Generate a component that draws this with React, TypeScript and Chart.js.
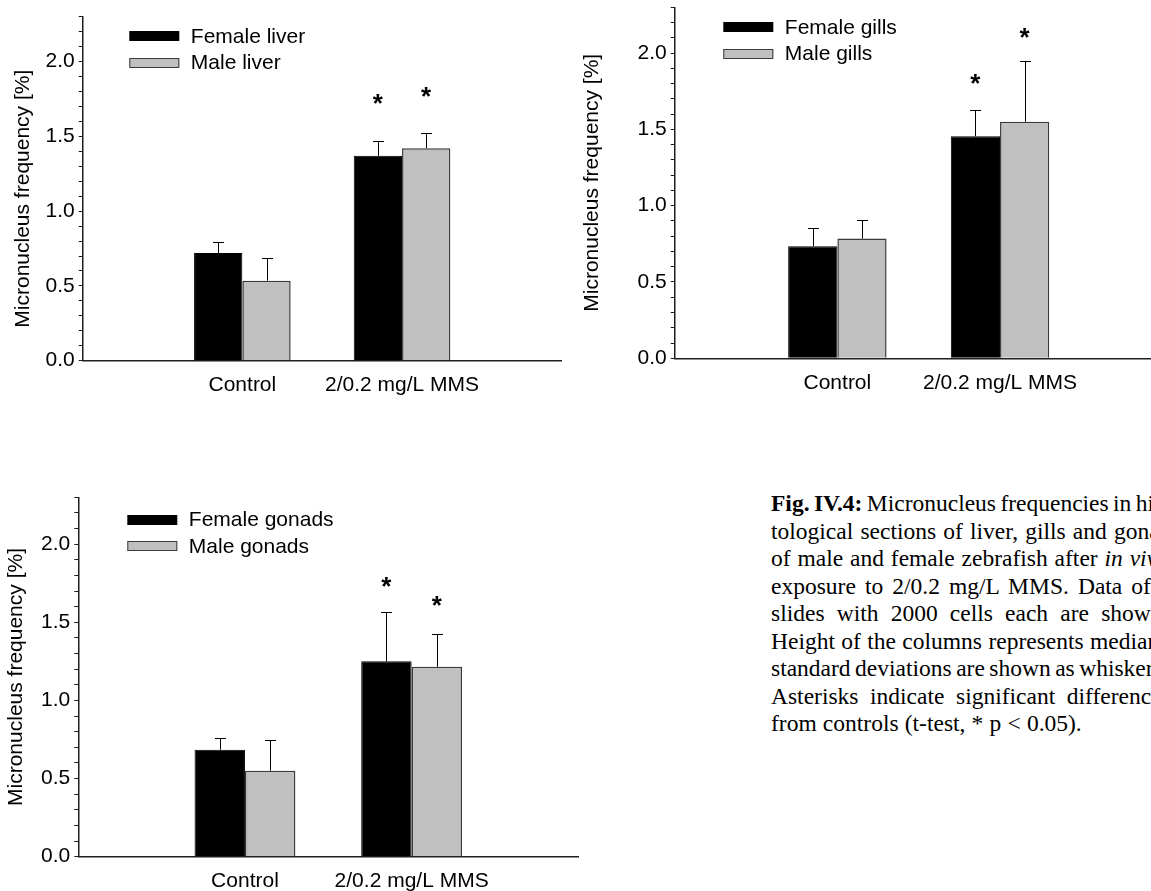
import React, { useEffect, useRef } from 'react';
import { Chart, registerables } from 'chart.js';

Chart.register(...registerables);

// ---- data ----
const categories = ['Control', '2/0.2 mg/L MMS'];
const yMax = 2.3;
const yStep = 0.1;
const yLabelStep = 0.5;
const yTitle = 'Micronucleus frequency [%]';

const liverFemale = [0.72, 1.37];
const liverFemaleSD = [0.074, 0.1];
const liverFemaleStar = [null, 1.752];
const liverMale = [0.535, 1.42];
const liverMaleSD = [0.152, 0.105];
const liverMaleStar = [null, 1.803];

const gillsFemale = [0.735, 1.455];
const gillsFemaleSD = [0.122, 0.172];
const gillsFemaleStar = [null, 1.836];
const gillsMale = [0.785, 1.55];
const gillsMaleSD = [0.124, 0.398];
const gillsMaleStar = [null, 2.138];

const gonadsFemale = [0.685, 1.25];
const gonadsFemaleSD = [0.077, 0.313];
const gonadsFemaleStar = [null, 1.761];
const gonadsMale = [0.55, 1.215];
const gonadsMaleSD = [0.2, 0.207];
const gonadsMaleStar = [null, 1.643];

// ---- styles ----
const FONT = 'Liberation Sans, Arial, sans-serif';
const FS = 21;
const BLACK = '#000000';
const GREY = '#c0c0c0';
const GREY_EDGE = '#3a3a3a';
const AXIS = '#1e1e1e';

type Area = { left: number; right: number; top: number; bottom: number };
type PanelProps = {
  left: number;
  top: number;
  width: number;
  height: number;
  area: Area; // plot area in page coordinates
  legendX: number; // swatch left, page coordinates
  legendY: number; // first row centre, page coordinates
  titleX: number; // y title centre, page coordinates
  titleDy: number;
  names: [string, string];
  female: number[];
  femaleSD: number[];
  femaleStar: (number | null)[];
  male: number[];
  maleSD: number[];
  maleStar: (number | null)[];
};

// whiskers (upper SD) and significance asterisks
const whiskerPlugin = {
  id: 'whiskers',
  afterDatasetsDraw(chart: any) {
    const ctx = chart.ctx;
    const ys = chart.scales.y;
    chart.data.datasets.forEach((ds: any, i: number) => {
      const meta = chart.getDatasetMeta(i);
      meta.data.forEach((el: any, j: number) => {
        const v = ds.data[j];
        if (v == null) return;
        const sd = ds.sd[j];
        const x = Math.round(el.x) + 0.5;
        const yTop = Math.round(ys.getPixelForValue(v + sd)) + 0.5;
        ctx.save();
        ctx.strokeStyle = '#000';
        ctx.lineWidth = 1;
        ctx.beginPath();
        ctx.moveTo(x, el.y);
        ctx.lineTo(x, yTop);
        ctx.moveTo(x - 5.5, yTop);
        ctx.lineTo(x + 5.5, yTop);
        ctx.stroke();
        const star = ds.star[j];
        if (star != null) {
          const size = 26;
          ctx.font = `bold ${size}px ${FONT}`;
          ctx.fillStyle = '#000';
          ctx.textAlign = 'center';
          ctx.textBaseline = 'alphabetic';
          ctx.fillText('*', el.x, ys.getPixelForValue(star) + 0.53 * size);
        }
        ctx.restore();
      });
    });
  },
};

// in-plot legend and rotated axis title
const annotatePlugin = {
  id: 'annotate',
  afterDraw(chart: any) {
    const o = chart.options.plugins.annotate;
    const ctx = chart.ctx;
    ctx.save();
    ctx.font = `${FS}px ${FONT}`;
    ctx.textBaseline = 'middle';
    ctx.textAlign = 'left';
    chart.data.datasets.forEach((ds: any, i: number) => {
      const cy = o.legendY + i * 26.5;
      const x0 = o.legendX;
      ctx.fillStyle = ds.backgroundColor;
      ctx.fillRect(x0, Math.round(cy - 5), 50, 10);
      if (ds.borderColor !== BLACK) {
        ctx.strokeStyle = ds.borderColor;
        ctx.lineWidth = 1;
        ctx.strokeRect(x0 + 0.5, Math.round(cy - 5) + 0.5, 49, 9);
      }
      ctx.fillStyle = '#000';
      ctx.fillText(ds.label, x0 + 61.5, cy + 1);
    });
    const a = chart.chartArea;
    ctx.translate(o.titleX, (a.top + a.bottom) / 2 + o.titleDy);
    ctx.rotate(-Math.PI / 2);
    ctx.textAlign = 'center';
    ctx.textBaseline = 'middle';
    ctx.fillText(yTitle, 0, 0);
    ctx.restore();
  },
};

function Panel(p: PanelProps) {
  const ref = useRef<HTMLCanvasElement | null>(null);
  useEffect(() => {
    const canvas = ref.current;
    if (!canvas) return;
    const labels = ['', ...categories, ''];
    const pad = (arr: any[]) => [null, ...arr, null];
    const plotTop = p.area.top - p.top;
    const plotBottom = p.area.bottom - p.top;
    const plotRight = p.area.right - p.left;
    const yAxisWidth = p.area.left - p.left;
    const xAxisHeight = p.height - plotBottom;
    const chart = new Chart(canvas, {
      type: 'bar',
      data: {
        labels,
        datasets: [
          {
            label: p.names[0],
            data: pad(p.female),
            sd: pad(p.femaleSD),
            star: pad(p.femaleStar),
            backgroundColor: BLACK,
            borderColor: BLACK,
            borderWidth: 1,
          } as any,
          {
            label: p.names[1],
            data: pad(p.male),
            sd: pad(p.maleSD),
            star: pad(p.maleStar),
            backgroundColor: GREY,
            borderColor: GREY_EDGE,
            borderWidth: 1.5,
          } as any,
        ],
      },
      options: {
        responsive: false,
        animation: false,
        devicePixelRatio: 1,
        categoryPercentage: 0.605,
        barPercentage: 1,
        layout: {
          padding: { left: 0, top: plotTop, right: p.width - plotRight, bottom: 0 },
        },
        plugins: {
          legend: { display: false },
          tooltip: { enabled: false },
          annotate: {
            legendX: p.legendX - p.left,
            legendY: p.legendY - p.top,
            titleX: p.titleX - p.left,
            titleDy: p.titleDy,
          },
        } as any,
        scales: {
          x: {
            type: 'category',
            offset: false,
            grid: { display: false, drawTicks: false },
            border: { display: true, color: AXIS, width: 1.5 },
            ticks: {
              autoSkip: false,
              maxRotation: 0,
              minRotation: 0,
              padding: 12,
              color: '#000',
              font: { family: FONT, size: FS },
            },
            afterFit: (s: any) => {
              s.height = xAxisHeight;
              s.paddingLeft = 0;
              s.paddingRight = 0;
            },
          },
          y: {
            type: 'linear',
            min: 0,
            max: yMax,
            grid: {
              drawOnChartArea: false,
              drawTicks: true,
              tickLength: 4,
              color: AXIS,
              lineWidth: 1,
            },
            border: { display: true, color: AXIS, width: 1.5 },
            ticks: {
              stepSize: yStep,
              autoSkip: false,
              padding: 4,
              color: '#000',
              font: { family: FONT, size: FS },
              callback: (v: any) => {
                const n = Number(v);
                const k = n / yLabelStep;
                return Math.abs(k - Math.round(k)) < 1e-6 ? n.toFixed(1) : '';
              },
            },
            afterFit: (s: any) => {
              s.width = yAxisWidth;
              s.paddingTop = 0;
              s.paddingBottom = 0;
            },
          },
        },
      } as any,
      plugins: [whiskerPlugin, annotatePlugin],
    });
    return () => chart.destroy();
  }, []);
  return (
    <canvas
      ref={ref}
      width={p.width}
      height={p.height}
      style={{ position: 'absolute', left: p.left, top: p.top, width: p.width, height: p.height }}
    />
  );
}

const captionLines: { text: string; spacing: number }[] = [
  { text: 'Micronucleus frequencies in his-', spacing: -1.5 },
  { text: 'tological sections of liver, gills and gonads', spacing: 1.3 },
  { text: '', spacing: 1 },
  { text: 'exposure to 2/0.2 mg/L MMS. Data of', spacing: 3.2 },
  { text: 'slides with 2000 cells each are shown.', spacing: 6.3 },
  { text: 'Height of the columns represents median', spacing: 0.5 },
  { text: 'standard deviations are shown as whiskers.', spacing: -1.4 },
  { text: 'Asterisks indicate significant differences', spacing: 5.7 },
  { text: 'from controls (t-test, * p < 0.05).', spacing: 0.3 },
];

function Caption() {
  return (
    <div
      style={{
        position: 'absolute',
        left: 771,
        top: 490,
        fontFamily: 'Liberation Serif, Times New Roman, serif',
        fontSize: 23.5,
        lineHeight: '27.5px',
        whiteSpace: 'nowrap',
        color: '#000',
      }}
    >
      {captionLines.map((l, i) => (
        <div key={i} style={{ wordSpacing: l.spacing }}>
          {i === 0 && <b>Fig. IV.4: </b>}
          {i === 2 ? (
            <>
              of male and female zebrafish after <i>in vivo</i>
            </>
          ) : (
            l.text
          )}
        </div>
      ))}
    </div>
  );
}

export default function App() {
  return (
    <div
      style={{
        position: 'fixed',
        left: 0,
        top: 0,
        width: 1151,
        height: 891,
        overflow: 'hidden',
        background: '#fff',
      }}
    >
      <Panel
        left={0}
        top={0}
        width={575}
        height={420}
        area={{ left: 82.7, right: 561.7, top: 16.7, bottom: 360.7 }}
        legendX={129.3}
        legendY={36}
        titleX={23}
        titleDy={10}
        names={['Female liver', 'Male liver']}
        female={liverFemale}
        femaleSD={liverFemaleSD}
        femaleStar={liverFemaleStar}
        male={liverMale}
        maleSD={liverMaleSD}
        maleStar={liverMaleStar}
      />
      <Panel
        left={560}
        top={0}
        width={620}
        height={420}
        area={{ left: 674.7, right: 1162.7, top: 7.3, bottom: 358.3 }}
        legendX={723.3}
        legendY={27.2}
        titleX={592}
        titleDy={0}
        names={['Female gills', 'Male gills']}
        female={gillsFemale}
        femaleSD={gillsFemaleSD}
        femaleStar={gillsFemaleStar}
        male={gillsMale}
        maleSD={gillsMaleSD}
        maleStar={gillsMaleStar}
      />
      <Panel
        left={0}
        top={470}
        width={590}
        height={421}
        area={{ left: 78.3, right: 578.3, top: 497.3, bottom: 856.7 }}
        legendX={127.3}
        legendY={519.7}
        titleX={16.5}
        titleDy={0}
        names={['Female gonads', 'Male gonads']}
        female={gonadsFemale}
        femaleSD={gonadsFemaleSD}
        femaleStar={gonadsFemaleStar}
        male={gonadsMale}
        maleSD={gonadsMaleSD}
        maleStar={gonadsMaleStar}
      />
      <Caption />
    </div>
  );
}
